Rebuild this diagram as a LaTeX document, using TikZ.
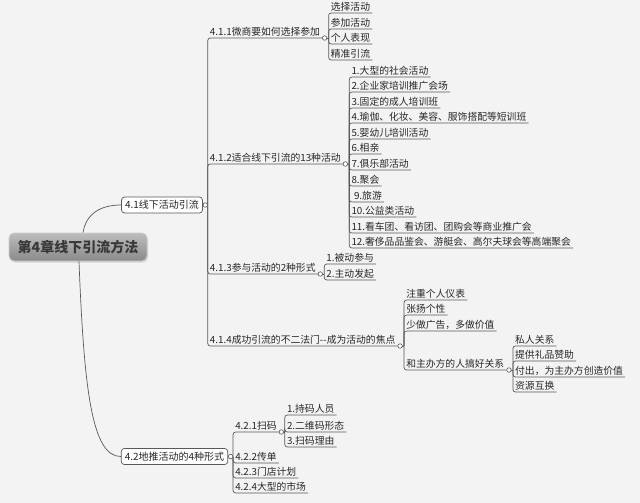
\documentclass[tikz,border=0pt]{standalone}
\usepackage{fontspec}
\setmainfont{Noto Sans CJK SC}
\usetikzlibrary{shadows}
\definecolor{bgc}{RGB}{243,243,243}
\definecolor{lnc}{RGB}{88,88,88}
\definecolor{txc}{RGB}{38,38,38}
\tikzset{
  rootbox/.style={rounded corners=5pt, top color=black!26, bottom color=black!46, draw=black!20,
    line width=0.8pt, minimum width=138pt, minimum height=28pt, text=black!78,
    font=\fontsize{14pt}{16pt}\selectfont\bfseries, drop shadow={opacity=0.25, shadow xshift=1pt, shadow yshift=-1.5pt}},
  mainbox/.style={draw=lnc, fill=white, rounded corners=3pt, line width=0.7pt, inner xsep=3.5pt, inner ysep=1.5pt,
    text height=8.5pt, text depth=1.5pt, minimum height=16pt, text=txc, font=\fontsize{10pt}{12pt}\selectfont},
  leaf/.style={anchor=south west, inner xsep=2pt, inner ysep=1pt, text height=8.5pt, text depth=1.5pt,
    text=txc, font=\fontsize{9.8pt}{12pt}\selectfont},
  ul/.style={draw=lnc, line width=0.7pt, rounded corners=2.5pt},
  conn/.style={draw=lnc, line width=0.7pt},
  dotc/.style={circle, draw=lnc, fill=white, minimum size=4.5pt, inner sep=0pt, line width=0.6pt}
}
\begin{document}
\begin{tikzpicture}[x=1pt,y=-1pt]
\useasboundingbox (0,0) rectangle (640,503);
\fill[bgc] (0,0) rectangle (640,503);

% main topics
\node[rootbox] (root) at (78,247) {第4章线下引流方法};
\node[mainbox] (n41) at (162,205) {4.1线下活动引流};
\node[mainbox] (n42) at (174.5,456.5) {4.2地推活动的4种形式};
\draw[conn] ([xshift=5pt]root.north) .. controls (86,214) and (100,205) .. (n41.west);
\draw[conn] ([xshift=1pt]root.south) .. controls (84,390) and (92,457) .. (n42.west);

% 4.1 branch
\coordinate (d41) at ([xshift=2.5pt]n41.east);
\coordinate (b41) at ([xshift=2.5pt]d41);
\draw[conn] (d41) -- (b41);
\foreach \nm/\y/\t in {p411/38/4.1.1微商要如何选择参加, p412/164/4.1.2适合线下引流的13种活动,
   p413/274/4.1.3参与活动的2种形式, p414/346/4.1.4成功引流的不二法门{-}{-}成为活动的焦点}{
  \node[leaf] (\nm) at (b41 |- 0,\y) {\t};
  \draw[ul] (b41) |- (\nm.south east);
  \coordinate (d\nm) at ([xshift=2.5pt]\nm.south east);
  \coordinate (b\nm) at ([xshift=4pt]d\nm);
  \draw[conn] (d\nm) -- (b\nm);
}

% 4.1.1 children
\foreach \y/\t [count=\i] in {13/选择活动, 29/参加活动, 44/个人表现, 60/精准引流}{
  \node[leaf] (c411-\i) at (bp411 |- 0,\y) {\t};
  \draw[ul] (bp411) |- (c411-\i.south east);
}

% 4.1.2 children
\foreach \y/\t [count=\i] in {77/1.大型的社会活动, 92/2.企业家培训推广会场, 108/3.固定的成人培训班,
   123/4.瑜伽、化妆、美容、服饰搭配等短训班, 139/5.婴幼儿培训活动, 154/6.相亲, 170/7.俱乐部活动,
   186/8.聚会, 202/\hspace{2.5pt}9.旅游, 217/10.公益类活动, 233/11.看车团、看访团、团购会等商业推广会,
   248/12.奢侈品品鉴会、游艇会、高尔夫球会等高端聚会}{
  \node[leaf] (c412-\i) at (bp412 |- 0,\y) {\t};
  \draw[ul] (bp412) |- (c412-\i.south east);
}

% 4.1.3 children
\foreach \y/\t [count=\i] in {264/1.被动参与, 280/2.主动发起}{
  \node[leaf] (c413-\i) at (bp413 |- 0,\y) {\t};
  \draw[ul] (bp413) |- (c413-\i.south east);
}

% 4.1.4 children
\foreach \y/\t [count=\i] in {300/注重个人仪表, 315/张扬个性, 331/少做广告，多做价值, 370/和主办方的人搞好关系}{
  \node[leaf] (c414-\i) at (bp414 |- 0,\y) {\t};
  \draw[ul] (bp414) |- (c414-\i.south east);
}
\coordinate (dg) at ([xshift=2.5pt]c414-4.south east);
\coordinate (bg) at ([xshift=4pt]dg);
\draw[conn] (dg) -- (bg);
\foreach \y/\t [count=\i] in {346/私人关系, 361/提供礼品赞助, 377/付出，为主办方创造价值, 392/资源互换}{
  \node[leaf] (cg-\i) at (bg |- 0,\y) {\t};
  \draw[ul] (bg) |- (cg-\i.south east);
}

% 4.2 branch
\coordinate (d42) at ([xshift=2.5pt]n42.east);
\coordinate (b42) at ([xshift=2.5pt]d42);
\draw[conn] (d42) -- (b42);
\foreach \nm/\y/\t in {p421/432/4.2.1扫码, p422/463/4.2.2传单, p423/478/4.2.3门店计划, p424/493/4.2.4大型的市场}{
  \node[leaf] (\nm) at (b42 |- 0,\y) {\t};
  \draw[ul] (b42) |- (\nm.south east);
}
\coordinate (dp421) at ([xshift=2.5pt]p421.south east);
\coordinate (bp421) at ([xshift=3.5pt]dp421);
\draw[conn] (dp421) -- (bp421);
\foreach \y/\t [count=\i] in {415/1.持码人员, 432/2.二维码形态, 447/3.扫码理由}{
  \node[leaf] (c421-\i) at (bp421 |- 0,\y) {\t};
  \draw[ul] (bp421) |- (c421-\i.south east);
}

% collapse dots
\foreach \d in {d41, dp411, dp412, dp413, dp414, dg, d42, dp421}{
  \node[dotc] at (\d) {};
}
\end{tikzpicture}
\end{document}
